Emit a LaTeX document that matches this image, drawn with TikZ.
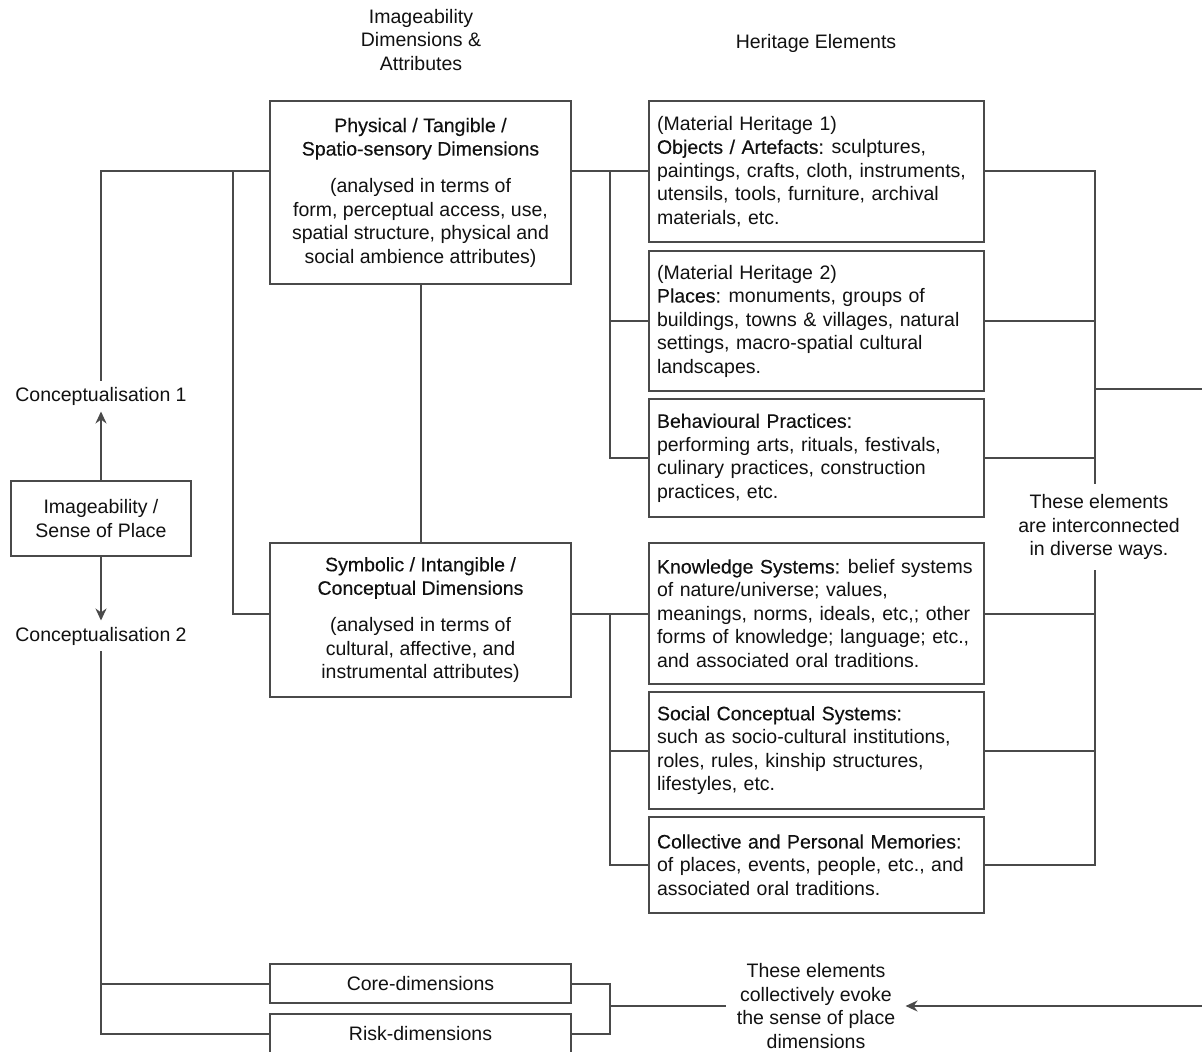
\documentclass[tikz,border=0pt]{standalone}
\usepackage{fontspec}
\setmainfont{Liberation Sans}
\newfontfamily\medium[FakeBold=0.3]{Liberation Sans}
\usepackage{tikz}
\usetikzlibrary{arrows.meta}

\definecolor{linegray}{HTML}{4A4A4A}
\definecolor{textgray}{HTML}{111111}

\begin{document}
\begin{tikzpicture}[x=0.5pt, y=-0.5pt,
    every node/.style={text=textgray, font=\fontsize{9.75pt}{11.75pt}\selectfont},
    box/.style={draw=linegray, line width=0.9pt, minimum width=150.5pt, align=center, inner sep=0pt},
    hbox/.style={draw=linegray, line width=0.9pt, text width=159.5pt, inner xsep=4pt, inner ysep=0pt, align=left},
    note/.style={align=center, inner sep=3pt},
    link/.style={draw=linegray, line width=1pt},
    >={Stealth[length=6pt, width=5.5pt]}]

  \useasboundingbox (0,0) rectangle (1202,1052);
  \fill[white] (0,0) rectangle (1202,1052);
  \clip (0,0) rectangle (1202,1052);

  % headings
  \node[note] (dimhead) at (421,40) {Imageability\\Dimensions \&\\Attributes};
  \node[note] (herhead) at (816,43) {Heritage Elements};

  % left column
  \node[box, minimum width=90pt, minimum height=37.5pt] (place) at (101,518.5) {Imageability /\\Sense of Place};
  \node[note] (concA) at (101,396) {Conceptualisation 1};
  \node[note] (concB) at (101,636) {Conceptualisation 2};

  % dimensions
  \node[box, minimum height=91.5pt] (phys) at (420.5,192.5)
    {{\medium Physical / Tangible /}\\{\medium Spatio-sensory Dimensions}\\[6.75pt]
     (analysed in terms of\\form, perceptual access, use,\\spatial structure, physical and\\social ambience attributes)};
  \node[box, minimum height=77pt] (symb) at (420.5,620)
    {{\medium Symbolic / Intangible /}\\{\medium Conceptual Dimensions}\\[6.75pt]
     (analysed in terms of\\cultural, affective, and\\instrumental attributes)};
  \node[box, minimum height=19.5pt] (core) at (420.5,983.5) {Core-dimensions};
  \node[box, minimum height=20pt] (risk) at (420.5,1034) {Risk-dimensions};

  % heritage elements
  \node[hbox, minimum height=70.5pt] (objects) at (816.5,171.5)
    {(Material Heritage 1)\\{\medium Objects / Artefacts:}\kern-1pt{} sculptures,\\paintings, crafts, cloth, instruments,\\utensils, tools, furniture, archival\\materials, etc.};
  \node[hbox, minimum height=70pt] (places) at (816.5,321)
    {(Material Heritage 2)\\{\medium Places:}\kern-1pt{} monuments, groups of\\buildings, towns \& villages, natural\\settings, macro-spatial cultural\\landscapes.};
  \node[hbox, minimum height=59pt] (practices) at (816.5,458)
    {{\medium Behavioural Practices:}\\performing arts, rituals, festivals,\\culinary practices, construction\\practices, etc.};
  \node[hbox, minimum height=70.5pt] (knowledge) at (816.5,613.5)
    {{\medium Knowledge Systems:}\kern-1pt{} belief systems\\of nature/universe; values,\\meanings, norms, ideals, etc,; other\\forms of knowledge; language; etc.,\\and associated oral traditions.};
  \node[hbox, minimum height=58.5pt] (social) at (816.5,750.5)
    {{\medium Social Conceptual Systems:}\\such as socio-cultural institutions,\\roles, rules, kinship structures,\\lifestyles, etc.};
  \node[hbox, minimum height=48pt] (memories) at (816.5,865)
    {{\medium Collective and Personal Memories:}\\of places, events, people, etc., and\\associated oral traditions.};

  \node[note, inner sep=5pt] (inter) at (1099,527) {These elements\\are interconnected\\in diverse ways.};
  \node[note, inner sep=5pt] (evoke) at (816,1006) {These elements\\collectively evoke\\the sense of place\\dimensions};

  % bus lines
  \coordinate (lsplit) at (233,0);
  \coordinate (lbus) at (610,0);
  \coordinate (rbus) at (1095,0);
  \coordinate (edge) at (1212,0);

  % connectors
  \draw[link, ->] (place.north) -- (concA.south);
  \draw[link, ->] (place.south) -- (concB.north);
  \draw[link] (concA.north) |- (phys.west |- objects.west);
  \draw[link] (lsplit |- objects.west) |- (symb.west |- knowledge.west);
  \draw[link] (phys.south) -- (symb.north);
  \draw[link] (concB.south) |- (risk.west);
  \draw[link] (concB.south |- core.west) -- (core.west);

  \draw[link] (phys.east |- objects.west) -- (objects.west);
  \draw[link] (lbus |- objects.west) |- (practices.west);
  \draw[link] (lbus |- places.west) -- (places.west);
  \draw[link] (symb.east |- knowledge.west) -- (knowledge.west);
  \draw[link] (lbus |- knowledge.west) |- (memories.west);
  \draw[link] (lbus |- social.west) -- (social.west);

  \draw[link] (objects.east) -| (rbus |- inter.north);
  \draw[link] (places.east) -- (rbus |- places.east);
  \draw[link] (practices.east) -- (rbus |- practices.east);
  \draw[link] (memories.east) -| (rbus |- inter.south);
  \draw[link] (knowledge.east) -- (rbus |- knowledge.east);
  \draw[link] (social.east) -- (rbus |- social.east);

  \draw[link] (core.east) -- (lbus |- core.east) -- (lbus |- risk.east) -- (risk.east);
  \draw[link] (lbus |- evoke.west) -- (evoke.west);
  \draw[link, ->] (rbus |- 0,389) -- (edge |- 0,389) -- (edge |- evoke.east) -- (evoke.east);
\end{tikzpicture}
\end{document}
